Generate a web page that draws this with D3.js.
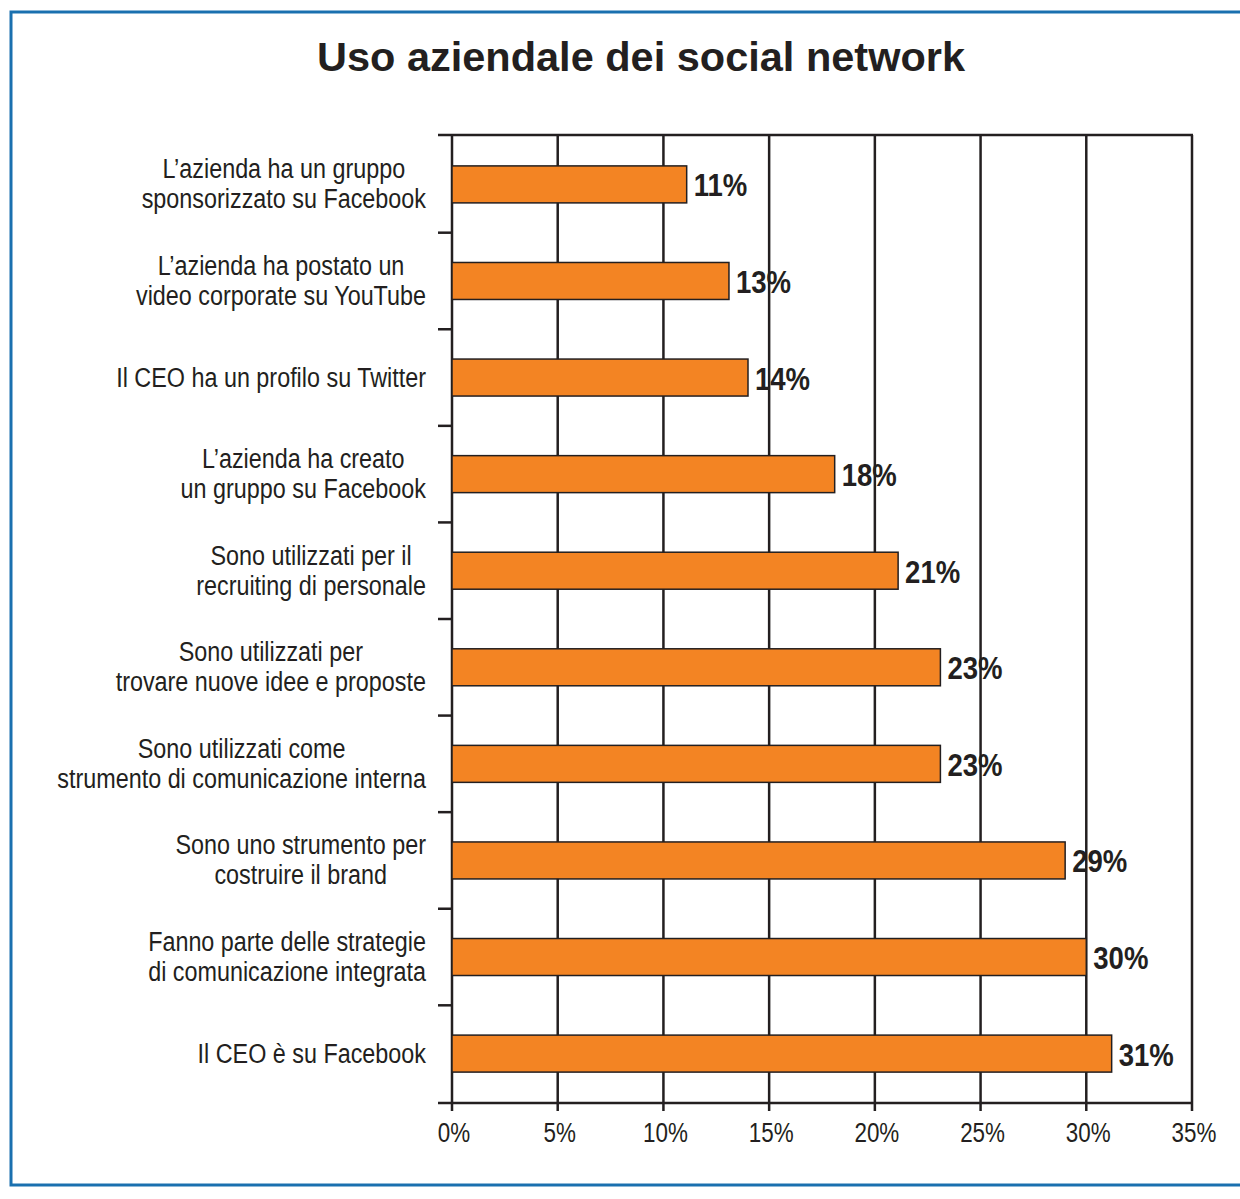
<!DOCTYPE html>
<html>
<head>
<meta charset="utf-8">
<script src="https://cdn.jsdelivr.net/npm/d3@7"></script>
<style>
  body { margin: 0; background: #fff; }
  svg { display: block; }
</style>
</head>
<body>
<svg id="chart" width="1240" height="1199"></svg>
<script>
// categories, top to bottom (each entry = lines of the label)
var categories = [
  ["L\u2019azienda ha un gruppo", "sponsorizzato su Facebook"],
  ["L\u2019azienda ha postato un", "video corporate su YouTube"],
  ["Il CEO ha un profilo su Twitter"],
  ["L\u2019azienda ha creato", "un gruppo su Facebook"],
  ["Sono utilizzati per il", "recruiting di personale"],
  ["Sono utilizzati per", "trovare nuove idee e proposte"],
  ["Sono utilizzati come", "strumento di comunicazione interna"],
  ["Sono uno strumento per", "costruire il brand"],
  ["Fanno parte delle strategie", "di comunicazione integrata"],
  ["Il CEO \u00e8 su Facebook"]
];
var values = [11.1, 13.1, 14.0, 18.1, 21.1, 23.1, 23.1, 29.0, 30.0, 31.2];
var valueLabels = ["11%", "13%", "14%", "18%", "21%", "23%", "23%", "29%", "30%", "31%"];
var xTicks = [0, 5, 10, 15, 20, 25, 30, 35];

var ink = "#231f20";
var sans = "'Liberation Sans', Arial, sans-serif";

// no narrow font installed: squeeze the glyphs horizontally
function squeeze(sel, f) {
  sel.each(function() {
    var w = this.getComputedTextLength();
    d3.select(this).attr("textLength", w * f).attr("lengthAdjust", "spacingAndGlyphs");
  });
}

var svg = d3.select("#chart");

// blue frame (right side runs off the page)
svg.append("rect")
  .attr("x", 11).attr("y", 12)
  .attr("width", 1260).attr("height", 1173)
  .attr("fill", "none")
  .attr("stroke", "#1a70af")
  .attr("stroke-width", 3);

svg.append("text")
  .attr("x", 641).attr("y", 71)
  .attr("text-anchor", "middle")
  .attr("font-family", sans)
  .attr("font-weight", "bold")
  .attr("font-size", 41.5)
  .attr("fill", ink)
  .text("Uso aziendale dei social network");

var x = d3.scaleLinear().domain([0, 35]).range([452, 1192]);
var y = d3.scaleBand()
  .domain(d3.range(categories.length))
  .range([135, 1103])
  .paddingInner(0.617)
  .paddingOuter(0.32);

var plotTop = 135, plotBottom = 1103;

// value labels (drawn first: gridlines pass over them)
svg.append("g").attr("class", "valueLabels")
  .selectAll("text")
  .data(values)
  .enter()
  .append("text")
  .attr("x", function(d) { return x(d) + 7; })
  .attr("y", function(d, i) { return y(i) + y.bandwidth() / 2 + 12; })
  .attr("font-family", sans)
  .attr("font-weight", "bold")
  .attr("font-size", 32)
  .attr("fill", ink)
  .text(function(d, i) { return valueLabels[i]; })
  .call(squeeze, 0.86);

// vertical gridlines with ticks below the axis
svg.append("g").attr("class", "grid")
  .selectAll("line")
  .data(xTicks)
  .enter()
  .append("line")
  .attr("x1", function(d) { return x(d); })
  .attr("x2", function(d) { return x(d); })
  .attr("y1", plotTop)
  .attr("y2", plotBottom + 8)
  .attr("stroke", ink)
  .attr("stroke-width", 2.5);

// top and bottom lines, extending left like ticks
svg.append("g").attr("class", "hlines")
  .selectAll("line")
  .data([plotTop, plotBottom])
  .enter()
  .append("line")
  .attr("x1", 438)
  .attr("x2", 1193)
  .attr("y1", function(d) { return d; })
  .attr("y2", function(d) { return d; })
  .attr("stroke", ink)
  .attr("stroke-width", 2.5);

// category separator ticks on the left axis
svg.append("g").attr("class", "yTicks")
  .selectAll("line")
  .data(d3.range(1, categories.length))
  .enter()
  .append("line")
  .attr("x1", 438)
  .attr("x2", 452)
  .attr("y1", function(i) { return y(i) - y.step() * y.paddingInner() / 2; })
  .attr("y2", function(i) { return y(i) - y.step() * y.paddingInner() / 2; })
  .attr("stroke", ink)
  .attr("stroke-width", 2.5);

// bars
svg.append("g").attr("class", "bars")
  .selectAll("rect")
  .data(values)
  .enter()
  .append("rect")
  .attr("x", x(0))
  .attr("y", function(d, i) { return y(i); })
  .attr("width", function(d) { return x(d) - x(0); })
  .attr("height", y.bandwidth())
  .attr("fill", "#f38423")
  .attr("stroke", ink)
  .attr("stroke-width", 1.5);

// x tick labels
svg.append("g").attr("class", "xLabels")
  .selectAll("text")
  .data(xTicks)
  .enter()
  .append("text")
  .attr("x", function(d) { return x(d) + 2; })
  .attr("y", 1142)
  .attr("text-anchor", "middle")
  .attr("font-family", sans)
  .attr("font-size", 27)
  .attr("fill", ink)
  .text(function(d) { return d + "%"; })
  .call(squeeze, 0.83);

// category labels: block right-aligned, lines centred in the block
var lineH = 30, fCat = 0.865;
var catGroup = svg.append("g").attr("class", "catLabels");

categories.forEach(function(lines, i) {
  var cy = y(i) + y.bandwidth() / 2;
  var first = cy - (lines.length - 1) * lineH / 2 + 9;
  var texts = lines.map(function(s, k) {
    return catGroup.append("text")
      .attr("y", first + k * lineH)
      .attr("text-anchor", "middle")
      .attr("font-family", sans)
      .attr("font-size", 27)
      .attr("fill", ink)
      .text(s);
  });
  var maxW = d3.max(texts, function(t) { return t.node().getComputedTextLength(); }) * fCat;
  texts.forEach(function(t) {
    t.attr("x", 426 - maxW / 2).call(squeeze, fCat);
  });
});
</script>
</body>
</html>
